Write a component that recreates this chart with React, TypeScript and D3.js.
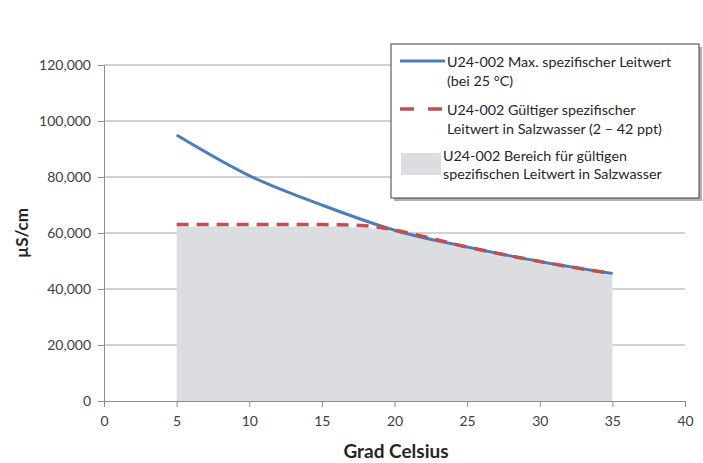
import { useEffect, useRef } from "react";
import * as d3 from "d3";

const temps = [5, 10, 15, 20, 25, 30, 35];
const maxCond = [95000, 80500, 70000, 61000, 55000, 49800, 45500];
const validTemps = [5, 10, 15, 18, 20, 25, 30, 35];
const validCond = [63000, 63000, 63000, 62600, 61000, 55000, 49800, 45500];
const xTicks = [0, 5, 10, 15, 20, 25, 30, 35, 40];
const yTicks = [0, 20000, 40000, 60000, 80000, 100000, 120000];
const legendLabels = [
  ["U24-002 Max. spezifischer Leitwert", "(bei 25 °C)"],
  ["U24-002 Gültiger spezifischer", "Leitwert in Salzwasser (2 – 42 ppt)"],
  ["U24-002 Bereich für gültigen", "spezifischen Leitwert in Salzwasser"],
];

const width = 703;
const height = 463;
const font = "Lato, 'Open Sans', sans-serif";

function App() {
  const ref = useRef<SVGSVGElement>(null);

  useEffect(() => {
    const svg = d3.select(ref.current);
    svg.selectAll("*").remove();

    const x = d3.scaleLinear().domain([0, 40]).range([104, 685]);
    const y = d3.scaleLinear().domain([0, 120000]).range([401, 65]);

    // gridlines
    svg
      .append("g")
      .selectAll("line")
      .data(yTicks.slice(1))
      .enter()
      .append("line")
      .attr("x1", x(0))
      .attr("x2", x(40))
      .attr("y1", (d) => y(d))
      .attr("y2", (d) => y(d))
      .attr("stroke", "#a6a6a6")
      .attr("stroke-width", 1);

    // area
    const area = d3
      .area<number>()
      .x((_, i) => x(validTemps[i]))
      .y0(y(0))
      .y1((d) => y(d) + 2)
      .curve(d3.curveMonotoneX);
    svg.append("path").attr("d", area(validCond)).attr("fill", "#dcdde0");

    // axes
    const yAxis = svg
      .append("g")
      .attr("transform", `translate(${x(0)},0)`)
      .call(
        d3
          .axisLeft(y)
          .tickValues(yTicks)
          .tickSize(6)
          .tickPadding(7)
          .tickFormat((d) => d3.format(",")(d as number))
      );
    const xAxis = svg
      .append("g")
      .attr("transform", `translate(0,${y(0)})`)
      .call(d3.axisBottom(x).tickValues(xTicks).tickSize(6).tickPadding(9));
    [yAxis, xAxis].forEach((g) => {
      g.select(".domain").attr("stroke", "#8c8c8c");
      g.selectAll(".tick line").attr("stroke", "#8c8c8c");
      g.selectAll(".tick text")
        .attr("fill", "#404040")
        .style("font-family", font)
        .style("font-size", "14px");
    });

    // lines
    const line = d3
      .line<number>()
      .x((_, i) => x(temps[i]))
      .y((d) => y(d))
      .curve(d3.curveMonotoneX);
    svg
      .append("path")
      .attr("d", line(maxCond))
      .attr("fill", "none")
      .attr("stroke", "#4a7ebb")
      .attr("stroke-width", 3);

    const line2 = d3
      .line<number>()
      .x((_, i) => x(validTemps[i]))
      .y((d) => y(d))
      .curve(d3.curveMonotoneX);
    svg
      .append("path")
      .attr("d", line2(validCond))
      .attr("fill", "none")
      .attr("stroke", "#c0504d")
      .attr("stroke-width", 3.5)
      .attr("stroke-dasharray", "12,8");

    // axis titles
    svg
      .append("text")
      .attr("transform", `translate(28,${y(60000)}) rotate(-90)`)
      .attr("text-anchor", "middle")
      .style("font-family", font)
      .style("font-size", "17px")
      .style("font-weight", "bold")
      .attr("fill", "#262626")
      .text("µS/cm");
    svg
      .append("text")
      .attr("x", 396)
      .attr("y", 458)
      .attr("text-anchor", "middle")
      .style("font-family", font)
      .style("font-size", "19px")
      .style("font-weight", "bold")
      .attr("fill", "#262626")
      .text("Grad Celsius");

    // legend
    const lg = svg.append("g");
    lg.append("rect")
      .attr("x", 394)
      .attr("y", 47)
      .attr("width", 308)
      .attr("height", 154)
      .attr("fill", "#b0b0b0");
    lg.append("rect")
      .attr("x", 391)
      .attr("y", 44)
      .attr("width", 308)
      .attr("height", 154)
      .attr("fill", "white")
      .attr("stroke", "#404040")
      .attr("stroke-width", 1);
    lg.append("line")
      .attr("x1", 400)
      .attr("x2", 445)
      .attr("y1", 61)
      .attr("y2", 61)
      .attr("stroke", "#4a7ebb")
      .attr("stroke-width", 3);
    lg.append("line")
      .attr("x1", 400)
      .attr("x2", 442)
      .attr("y1", 109)
      .attr("y2", 109)
      .attr("stroke", "#c0504d")
      .attr("stroke-width", 3.5)
      .attr("stroke-dasharray", "14,14");
    lg.append("rect")
      .attr("x", 401)
      .attr("y", 153)
      .attr("width", 40)
      .attr("height", 22)
      .attr("fill", "#dcdde0");
    const rows = [
      { x: 447, y: 67 },
      { x: 447, y: 115 },
      { x: 443, y: 161 },
    ];
    legendLabels.forEach((lines, i) => {
      lines.forEach((t, j) => {
        lg.append("text")
          .attr("x", rows[i].x)
          .attr("y", rows[i].y + j * (i === 2 ? 18 : 19))
          .style("font-family", font)
          .style("font-size", "14.3px")
          .attr("fill", "#262626")
          .text(t);
      });
    });
  }, []);

  return (
    <svg
      ref={ref}
      width={width}
      height={height}
      style={{ position: "absolute", left: 0, top: 0, background: "white" }}
    />
  );
}

export default App;
